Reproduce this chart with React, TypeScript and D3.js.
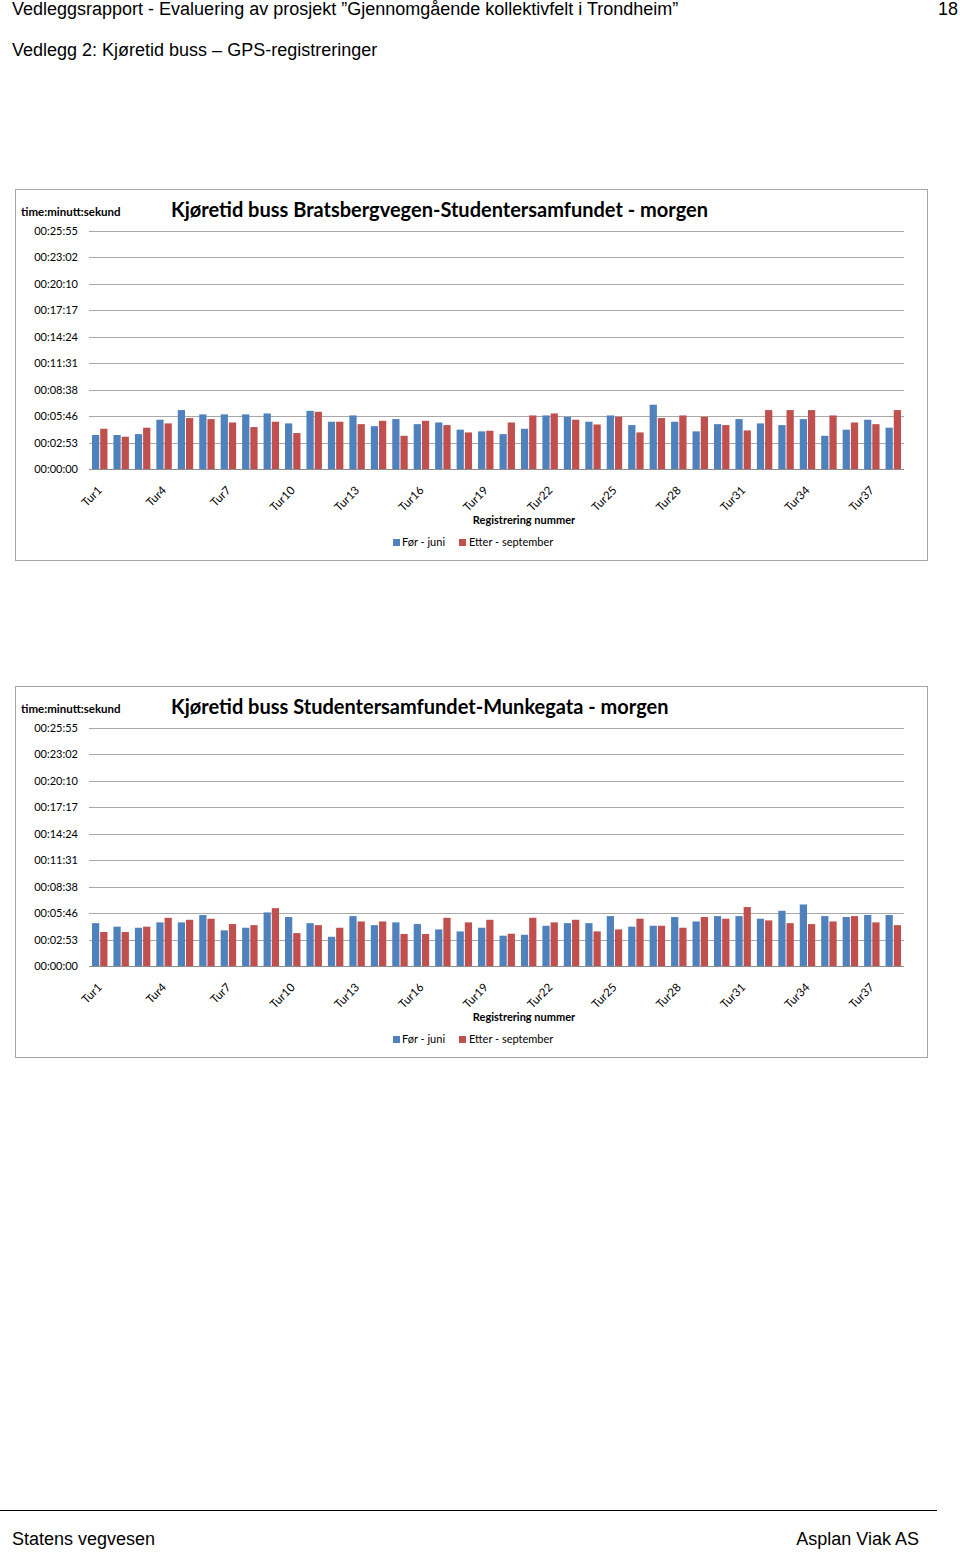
import React from "react";
import * as d3 from "d3";

// ---------- DATA ----------
const categories = [
  "Tur1","Tur2","Tur3","Tur4","Tur5","Tur6","Tur7","Tur8","Tur9","Tur10",
  "Tur11","Tur12","Tur13","Tur14","Tur15","Tur16","Tur17","Tur18","Tur19","Tur20",
  "Tur21","Tur22","Tur23","Tur24","Tur25","Tur26","Tur27","Tur28","Tur29","Tur30",
  "Tur31","Tur32","Tur33","Tur34","Tur35","Tur36","Tur37","Tur38",
];
const seriesNames = ["Før - juni", "Etter - september"];
const seriesColors = ["#4F81BD", "#C0504D"];

// Chart 1: Bratsbergvegen-Studentersamfundet (seconds)
const chart1Before = [
  222, 222, 228, 322, 385, 357, 357, 357, 363, 298,
  380, 309, 350, 280, 326, 293, 304, 257, 246, 228,
  263, 350, 341, 309, 350, 287, 420, 309, 246, 293,
  326, 298, 287, 326, 217, 257, 322, 270,
];
const chart1After = [
  263, 211, 270, 298, 333, 326, 304, 274, 309, 235,
  374, 309, 293, 315, 217, 315, 287, 239, 250, 304,
  350, 363, 322, 291, 341, 239, 333, 350, 341, 287,
  252, 385, 385, 385, 350, 304, 293, 385,
];

// Chart 2: Studentersamfundet-Munkegata (seconds)
const chart2Before = [
  280, 257, 250, 285, 285, 333, 233, 250, 350, 320,
  280, 191, 326, 267, 285, 274, 239, 226, 250, 198,
  204, 263, 280, 280, 326, 257, 263, 320, 291, 326,
  326, 309, 361, 402, 326, 320, 333, 333,
];
const chart2After = [
  222, 222, 257, 315, 302, 309, 274, 267, 378, 215,
  267, 250, 291, 291, 209, 209, 315, 285, 302, 211,
  315, 285, 302, 226, 239, 309, 263, 250, 320, 309,
  385, 298, 280, 274, 291, 326, 285, 267,
];

// y ticks: step 0.002 day = 172.8 s
const yTickValues = [0, 172.8, 345.6, 518.4, 691.2, 864, 1036.8, 1209.6, 1382.4, 1555.2];
const yTickLabels = [
  "00:00:00","00:02:53","00:05:46","00:08:38","00:11:31",
  "00:14:24","00:17:17","00:20:10","00:23:02","00:25:55",
];
const xLabelEvery = 3;

const headerLine1 = "Vedleggsrapport - Evaluering av prosjekt \u201DGjennomgående kollektivfelt i Trondheim\u201D";
const pageNumber = "18";
const headerLine2 = "Vedlegg 2: Kjøretid buss \u2013 GPS-registreringer";
const footerLeft = "Statens vegvesen";
const footerRight = "Asplan Viak AS";

const chartFont = "Lato, 'Open Sans', sans-serif";
const pageFont = "'Liberation Sans', Arial, sans-serif";

type ChartProps = {
  offsetY: number;
  title: string;
  before: number[];
  after: number[];
};

function Chart({ offsetY, title, before, after }: ChartProps) {
  const plotLeft = 89;
  const plotRight = 904;
  const yTop = 231;
  const yBase = 469;

  const x0 = d3.scaleBand<string>().domain(categories).range([plotLeft, plotRight]).paddingInner(0.28).paddingOuter(0.14);
  const x1 = d3.scaleBand<string>().domain(seriesNames).range([0, x0.bandwidth()]).paddingInner(0.12);
  const y = d3.scaleLinear().domain([0, 1555.2]).range([yBase, yTop]);
  const rows = categories.map((c, i) => ({ c, vals: [before[i], after[i]] }));

  return (
    <g transform={`translate(0,${offsetY})`}>
      <rect x={15.5} y={189.5} width={912} height={371} fill="#fff" stroke="#a6a6a6" strokeWidth={1} />
      <text x={171} y={217} fontFamily={chartFont} fontWeight={700} fontSize={20} fill="#000">{title}</text>
      <text x={21} y={215.5} fontFamily={chartFont} fontWeight={700} fontSize={11.5} fill="#000">time:minutt:sekund</text>
      {yTickValues.map((v, i) => (
        <g key={i}>
          <line x1={plotLeft} x2={plotRight} y1={Math.round(y(v)) + 0.5} y2={Math.round(y(v)) + 0.5} stroke="#a8a8a8" strokeWidth={1} />
          <text x={78} y={y(v) + 4} textAnchor="end" fontFamily={chartFont} fontSize={11} fill="#000">{yTickLabels[i]}</text>
        </g>
      ))}
      {rows.map((r) => (
        <g key={r.c} transform={`translate(${x0(r.c)},0)`}>
          {r.vals.map((v, j) => (
            <rect key={j} x={x1(seriesNames[j])} y={y(v)} width={x1.bandwidth()} height={yBase - y(v)} fill={seriesColors[j]} />
          ))}
        </g>
      ))}
      <line x1={plotLeft} x2={plotRight} y1={yBase + 0.5} y2={yBase + 0.5} stroke="#8c8c8c" strokeWidth={1} />
      {categories.map((c, i) =>
        i % xLabelEvery === 0 ? (
          <text key={c} transform={`translate(${(x0(c) as number) + x0.bandwidth() / 2 + 3},${yBase + 22}) rotate(-45)`}
            textAnchor="end" fontFamily={chartFont} fontSize={11.5} fill="#000">{c}</text>
        ) : null
      )}
      <text x={524} y={524} textAnchor="middle" fontFamily={chartFont} fontWeight={700} fontSize={11} fill="#000">Registrering nummer</text>
      <rect x={393} y={539} width={7} height={7} fill={seriesColors[0]} />
      <text x={402} y={546} fontFamily={chartFont} fontSize={11} fill="#000">{seriesNames[0]}</text>
      <rect x={459} y={539} width={7} height={7} fill={seriesColors[1]} />
      <text x={469} y={546} fontFamily={chartFont} fontSize={11} fill="#000">{seriesNames[1]}</text>
    </g>
  );
}

export default function App() {
  return (
    <svg width={960} height={1552} style={{ position: "absolute", left: 0, top: 0, background: "#fff" }}>
      <rect x={0} y={0} width={960} height={1552} fill="#fff" />
      <text x={12} y={15} fontFamily={pageFont} fontSize={18} fill="#000">{headerLine1}</text>
      <text x={958} y={15} textAnchor="end" fontFamily={pageFont} fontSize={18} fill="#000">{pageNumber}</text>
      <text x={12} y={56} fontFamily={pageFont} fontSize={18} fill="#000">{headerLine2}</text>
      <Chart offsetY={0} title="Kjøretid buss Bratsbergvegen-Studentersamfundet - morgen" before={chart1Before} after={chart1After} />
      <Chart offsetY={497} title="Kjøretid buss Studentersamfundet-Munkegata - morgen" before={chart2Before} after={chart2After} />
      <line x1={0} x2={937} y1={1510.5} y2={1510.5} stroke="#000" strokeWidth={1} />
      <text x={12} y={1545} fontFamily={pageFont} fontSize={18} fill="#000">{footerLeft}</text>
      <text x={919} y={1545} textAnchor="end" fontFamily={pageFont} fontSize={18} fill="#000">{footerRight}</text>
    </svg>
  );
}
